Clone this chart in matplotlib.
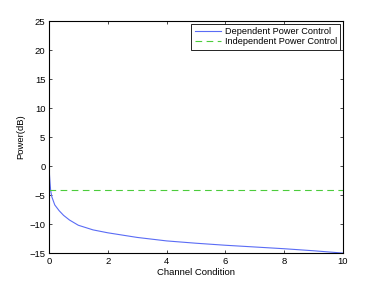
import matplotlib
matplotlib.use("Agg")
import matplotlib.pyplot as plt

# channel condition vs. transmit power
channel = [0, 0.002, 0.005, 0.01, 0.02, 0.04, 0.06, 0.1, 0.2, 0.35, 0.5, 0.7,
           1, 1.5, 2, 3, 4, 5, 6, 7, 8, 9, 10]
dep_power = [21.2, 12, 5, 1, -1.5, -3, -4.2, -5.3, -6.7, -7.7, -8.5, -9.3,
             -10.2, -11, -11.5, -12.3, -12.9, -13.3, -13.65, -13.95, -14.25, -14.6, -15]
indep_x = [0, 10]
indep_power = [-4.2, -4.2]

plt.rcParams['font.family'] = ['Liberation Sans', 'DejaVu Sans']
plt.rcParams['font.size'] = 6.8

fig = plt.figure(figsize=(3.79, 2.85), dpi=100)
ax = fig.add_axes([0.129, 0.112, 0.776, 0.814])

ax.plot(channel, dep_power, color="#5a6cf5", linewidth=0.8, label="Dependent Power Control")
ax.plot(indep_x, indep_power, color="#4ccc3c", linestyle=(0, (6, 4)), linewidth=0.8,
        label="Independent Power Control")

ax.set_xlim(0, 10)
ax.set_ylim(-15, 25)
ax.set_xticks([0, 2, 4, 6, 8, 10])
ax.set_yticks([-15, -10, -5, 0, 5, 10, 15, 20, 25])
ax.tick_params(direction="in", top=True, right=True, length=2.5, width=0.5, pad=2.5)
for s in ax.spines.values():
    s.set_linewidth(0.8)

ax.set_xlabel("Channel Condition", labelpad=2)
ax.set_ylabel("Power(dB)", labelpad=3)

leg = ax.legend(loc="upper right", fancybox=False, framealpha=1, edgecolor="black",
                fontsize=6.6, borderpad=0.35, handlelength=2.9, handletextpad=0.4,
                labelspacing=0.15, borderaxespad=0.3)
leg.get_frame().set_linewidth(0.6)

fig.savefig("out.png", dpi=100)
